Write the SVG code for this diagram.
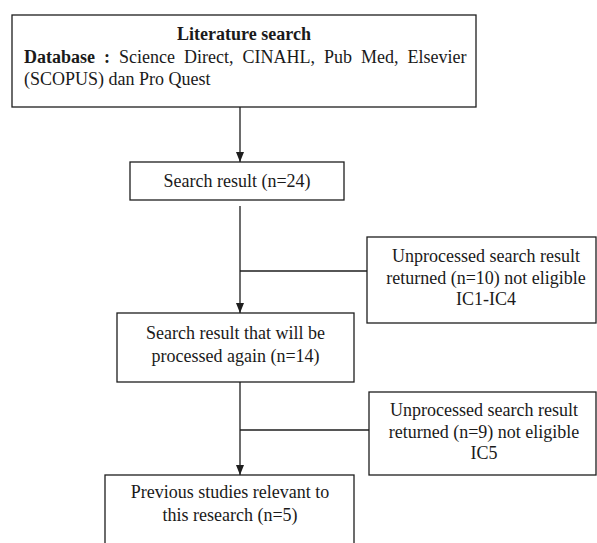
<svg xmlns="http://www.w3.org/2000/svg" width="597" height="543" viewBox="0 0 597 543">
<defs>
<style>
.box{fill:#fff;stroke:#1e1e1e;stroke-width:1.3}
.c{text-anchor:middle}
.b{font-weight:bold}
.ln{stroke:#1e1e1e;stroke-width:1.3;fill:none}
</style>
<marker id="ah" viewBox="0 0 10 8" refX="10" refY="4" markerWidth="10" markerHeight="8" markerUnits="userSpaceOnUse" orient="auto">
<path d="M0,0 L10,4 L0,8 z" fill="#1e1e1e"/>
</marker>
</defs>
<rect width="597" height="543" fill="#fff"/>
<g id="connectors">
<line class="ln" x1="240" y1="107" x2="240" y2="162" marker-end="url(#ah)"/>
<line class="ln" x1="240" y1="206" x2="240" y2="313" marker-end="url(#ah)"/>
<line class="ln" x1="240" y1="271" x2="367" y2="271"/>
<line class="ln" x1="240" y1="382" x2="240" y2="475" marker-end="url(#ah)"/>
<line class="ln" x1="240" y1="430" x2="369" y2="430"/>
</g>
<g font-family="Liberation Serif, Times New Roman, serif" font-size="18" fill="#1a1a1a">
<g id="literature">
<rect class="box" x="12" y="15" width="464" height="92"/>
<text class="c b" x="244" y="40">Literature search</text>
<text y="63"><tspan class="b" x="24">Database</tspan><tspan class="b" x="104">:</tspan><tspan x="119">Science</tspan><tspan x="184">Direct,</tspan><tspan x="242.5">CINAHL,</tspan><tspan x="324">Pub</tspan><tspan x="361">Med,</tspan><tspan x="407.5">Elsevier</tspan></text>
<text x="24" y="85">(SCOPUS) dan Pro Quest</text>
</g>
<g id="search">
<rect class="box" x="130" y="162" width="214" height="38"/>
<text class="c" x="237" y="187">Search result (n=24)</text>
</g>
<g id="excluded1">
<rect class="box" x="367" y="237" width="229" height="86"/>
<text class="c" x="486" y="262">Unprocessed search result</text>
<text class="c" x="486" y="284">returned (n=10) not eligible</text>
<text class="c" x="486" y="305">IC1-IC4</text>
</g>
<g id="processed">
<rect class="box" x="117" y="313" width="237" height="69"/>
<text class="c" x="235.5" y="339">Search result that will be</text>
<text class="c" x="235.5" y="362">processed again (n=14)</text>
</g>
<g id="excluded2">
<rect class="box" x="369" y="392" width="227" height="83"/>
<text class="c" x="484" y="416">Unprocessed search result</text>
<text class="c" x="484" y="438">returned (n=9) not eligible</text>
<text class="c" x="484" y="459">IC5</text>
</g>
<g id="relevant">
<rect class="box" x="105" y="475" width="249" height="72"/>
<text class="c" x="230" y="498">Previous studies relevant to</text>
<text class="c" x="230" y="521">this research (n=5)</text>
</g>
</g>
</svg>
